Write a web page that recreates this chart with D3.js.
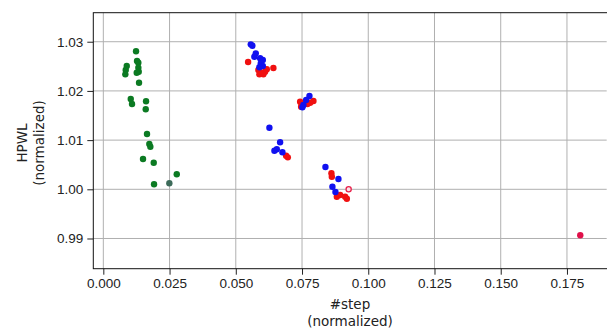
<!DOCTYPE html>
<html>
<head>
<meta charset="utf-8">
<script src="https://cdn.jsdelivr.net/npm/d3@7"></script>
<style>
  body { margin: 0; background: #fff; }
  svg { display: block; font-family: "DejaVu Sans", sans-serif; }
</style>
</head>
<body>
<div id="chart"></div>
<script>
// green series
const greenX = [0.01235, 0.01273, 0.01322, 0.00884, 0.00846, 0.00831, 0.01322, 0.01337, 0.01261, 0.01348,
  0.01035, 0.01084, 0.01613, 0.01601, 0.0165, 0.01737, 0.01775, 0.01499, 0.01903, 0.02772, 0.01915];
const greenY = [1.02805, 1.02608, 1.02573, 1.02506, 1.02424, 1.02337, 1.02472, 1.0239, 1.0237, 1.02167,
  1.01835, 1.01734, 1.01789, 1.01626, 1.01124, 1.00921, 1.00866, 1.00616, 1.00541, 1.00305, 1.00102];

// grayish point next to the green group
const grayX = [0.02492];
const grayY = [1.00122];

// red series
const redX = [0.05465, 0.05853, 0.05982, 0.06106, 0.05891, 0.06042, 0.0642, 0.06171,
  0.07428, 0.07493, 0.07931, 0.07806, 0.07466, 0.07704, 0.069, 0.06964,
  0.0861, 0.08625, 0.08814, 0.08939, 0.09128, 0.09192];
const redY = [1.02587, 1.02425, 1.0237, 1.0239, 1.02337, 1.02337, 1.02465, 1.02439,
  1.0178, 1.01734, 1.01795, 1.0176, 1.01679, 1.01734, 1.00683, 1.0065,
  1.00325, 1.00256, 0.9985, 0.99884, 0.9985, 0.99809];

// hollow ring point and the far crimson point
const ringX = [0.0926];
const ringY = [1.0000];
const crimsonX = [0.18002];
const crimsonY = [0.99065];

// blue series
const blueX = [0.05566, 0.05627, 0.05755, 0.05702, 0.05918, 0.0602, 0.05944, 0.0602, 0.05891,
  0.0778, 0.07655, 0.07553, 0.07515, 0.06269, 0.06673, 0.06548, 0.06458, 0.0676,
  0.08384, 0.08875, 0.08648, 0.08761];
const blueY = [1.02947, 1.02919, 1.02764, 1.02695, 1.02663, 1.02628, 1.02561, 1.02506, 1.0248,
  1.01896, 1.01815, 1.01713, 1.01667, 1.01252, 1.00955, 1.00813, 1.00785, 1.00752,
  1.00453, 1.00209, 1.00053, 0.99945];

const xTicks = [0, 0.025, 0.05, 0.075, 0.1, 0.125, 0.15, 0.175];
const yTicks = [0.99, 1.00, 1.01, 1.02, 1.03];

const width = 607, height = 330;
const margin = { top: 12.7, right: 0.3, bottom: 61.3, left: 93.3 };

const svg = d3.select("#chart").append("svg")
  .attr("width", width).attr("height", height);

const x = d3.scaleLinear()
  .domain([-0.00378, 0.19])
  .range([margin.left, width - margin.right]);

const y = d3.scaleLinear()
  .domain([0.98386, 1.0359])
  .range([height - margin.bottom, margin.top]);

// grid
svg.append("g").selectAll("line").data(xTicks).enter().append("line")
  .attr("x1", d => x(d)).attr("x2", d => x(d))
  .attr("y1", margin.top).attr("y2", height - margin.bottom)
  .attr("stroke", "#b0b0b0").attr("stroke-width", 1);
svg.append("g").selectAll("line").data(yTicks).enter().append("line")
  .attr("x1", margin.left).attr("x2", width - margin.right)
  .attr("y1", d => y(d)).attr("y2", d => y(d))
  .attr("stroke", "#b0b0b0").attr("stroke-width", 1);

// points
const series = [
  { xs: greenX, ys: greenY, color: "#0b7a22" },
  { xs: grayX, ys: grayY, color: "#3d6b5a" },
  { xs: redX, ys: redY, color: "#f01010" },
  { xs: crimsonX, ys: crimsonY, color: "#e0104a" },
  { xs: blueX, ys: blueY, color: "#1010f0" }
];
series.forEach(s => {
  svg.append("g").selectAll("circle")
    .data(s.xs.map((v, i) => [v, s.ys[i]]))
    .enter().append("circle")
    .attr("cx", d => x(d[0]))
    .attr("cy", d => y(d[1]))
    .attr("r", 3.2)
    .attr("fill", s.color);
});
svg.append("g").selectAll("circle")
  .data(ringX.map((v, i) => [v, ringY[i]]))
  .enter().append("circle")
  .attr("cx", d => x(d[0]))
  .attr("cy", d => y(d[1]))
  .attr("r", 2.6)
  .attr("fill", "#fbe0e6")
  .attr("stroke", "#e8204a")
  .attr("stroke-width", 1.3);

// axes
const xAxis = d3.axisBottom(x).tickValues(xTicks).tickFormat(d3.format(".3f")).tickSize(6).tickPadding(4);
const yAxis = d3.axisLeft(y).tickValues(yTicks).tickFormat(d3.format(".2f")).tickSize(6).tickPadding(4);

const gx = svg.append("g")
  .attr("transform", `translate(0,${height - margin.bottom})`)
  .call(xAxis);
const gy = svg.append("g")
  .attr("transform", `translate(${margin.left},0)`)
  .call(yAxis);
[gx, gy].forEach(g => {
  g.select(".domain").remove();
  g.selectAll("text").style("font-size", "13.5px").attr("fill", "#222");
  g.selectAll("line").attr("stroke", "#222");
});

// frame
svg.append("rect")
  .attr("x", margin.left).attr("y", margin.top)
  .attr("width", width - margin.right - margin.left + 2)
  .attr("height", height - margin.bottom - margin.top)
  .attr("fill", "none").attr("stroke", "#111").attr("stroke-width", 1);

// labels
const cx = (margin.left + width - margin.right) / 2;
svg.append("text").attr("x", cx).attr("y", 309).attr("text-anchor", "middle")
  .style("font-size", "13.5px").attr("fill", "#222").text("#step");
svg.append("text").attr("x", cx).attr("y", 326).attr("text-anchor", "middle")
  .style("font-size", "13.5px").attr("fill", "#222").text("(normalized)");

const cy = 143;
svg.append("text").attr("transform", `translate(27,${cy}) rotate(-90)`).attr("text-anchor", "middle")
  .style("font-size", "13.5px").attr("fill", "#222").text("HPWL");
svg.append("text").attr("transform", `translate(44,${cy}) rotate(-90)`).attr("text-anchor", "middle")
  .style("font-size", "13.5px").attr("fill", "#222").text("(normalized)");
</script>
</body>
</html>
